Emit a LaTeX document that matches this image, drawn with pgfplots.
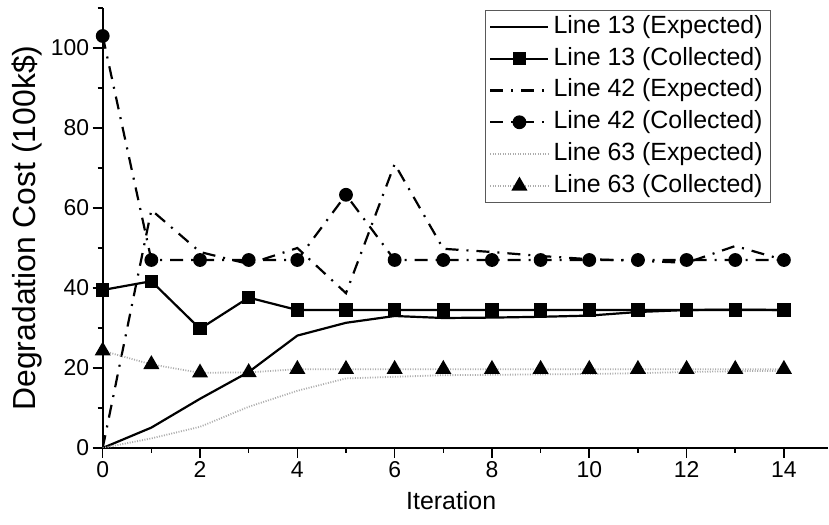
\documentclass[border=0pt]{standalone}
\usepackage{pgfplots}
\pgfplotsset{compat=1.18}
\usepackage{fontspec}
\setmainfont{Liberation Sans}
\begin{document}
\begin{tikzpicture}
\useasboundingbox (-102.7bp,-77bp) rectangle (726.3bp,448bp);
\begin{axis}[
  scale only axis,
  width=725bp, height=440bp,
  xmin=0, xmax=14.9, ymin=0, ymax=110,
  axis x line*=bottom, axis y line*=left,
  axis line style={line width=1.7bp, black},
  xtick={0,2,...,14}, minor xtick={1,3,...,13},
  ytick={0,20,...,100}, minor ytick={10,30,...,110},
  tick align=outside,
  major tick length=10bp, minor tick length=5bp,
  every tick/.style={line width=1.6bp, black},
  /pgf/number format/assume math mode=true,
  tick label style={font=\fontsize{23}{27}\selectfont},
  xlabel={Iteration}, ylabel={Degradation Cost (100k\$)},
  xlabel style={font=\fontsize{25}{29}\selectfont, yshift=-7bp, xshift=-14bp},
  ylabel style={font=\fontsize{32}{36}\selectfont, yshift=2bp},
  legend style={at={(rel axis cs:0.9218,0.9955)}, anchor=north east,
    draw=gray!70!black, line width=0.8bp,
    font=\fontsize{25}{30}\selectfont,
    inner xsep=4bp, inner ysep=1bp, row sep=0.8bp,
    nodes={text height=18bp, text depth=5bp, inner ysep=4bp, inner xsep=4bp},
    cells={anchor=west}},
  legend cell align=left,
  legend image code/.code={\draw[mark repeat=2,mark phase=2] plot coordinates {(0bp,0bp) (29bp,0bp) (58bp,0bp)};},
]
% Line 13 Expected
\addplot[black, line width=2.2bp] coordinates {(0,0)(1,5.1)(2,12.3)(3,19)(4,28.1)(5,31.3)(6,33)(7,32.5)(8,32.6)(9,32.8)(10,33.1)(11,34)(12,34.5)(13,34.6)(14,34.5)};
\addlegendentry{Line 13 (Expected)}
% Line 13 Collected
\addplot[black, line width=2.2bp, mark=square*, mark size=5.5bp, mark options={solid}] coordinates {(0,39.5)(1,41.7)(2,29.8)(3,37.6)(4,34.5)(5,34.5)(6,34.5)(7,34.5)(8,34.5)(9,34.5)(10,34.5)(11,34.5)(12,34.5)(13,34.5)(14,34.5)};
\addlegendentry{Line 13 (Collected)}
% Line 42 Expected
\addplot[black, line width=2.2bp, dash pattern=on 13bp off 8bp on 2bp off 8bp] coordinates {(0,0)(1,59.5)(2,49)(3,46)(4,50)(5,38.7)(6,71)(7,49.8)(8,49)(9,48)(10,47.2)(11,46.8)(12,46.3)(13,50.5)(14,47)};
\addlegendentry{Line 42 (Expected)}
% Line 42 Collected
\addplot[black, line width=2.2bp, dash pattern=on 13bp off 8bp on 2bp off 8bp, mark=*, mark size=5.8bp, mark options={solid}] coordinates {(0,103)(1,47)(2,47)(3,47)(4,47)(5,63.3)(6,47)(7,47)(8,47)(9,47)(10,47)(11,47)(12,47)(13,47)(14,47)};
\addlegendentry{Line 42 (Collected)}
% Line 63 Expected
\addplot[gray!65, line width=1.8bp, dash pattern=on 1bp off 1.5bp] coordinates {(0,0)(1,2.4)(2,5.3)(3,10.3)(4,14.3)(5,17.4)(6,17.8)(7,18.2)(8,18.3)(9,18.4)(10,18.5)(11,18.7)(12,19)(13,19.2)(14,19.3)};
\addlegendentry{Line 63 (Expected)}
% Line 63 Collected
\addplot[gray!65, line width=1.8bp, dash pattern=on 1bp off 1.5bp, mark=triangle*, mark size=7.5bp, mark options={solid, black, fill=black}] coordinates {(0,24.3)(1,20.9)(2,18.8)(3,18.9)(4,19.7)(5,19.7)(6,19.7)(7,19.7)(8,19.7)(9,19.7)(10,19.7)(11,19.7)(12,19.7)(13,19.7)(14,19.7)};
\addlegendentry{Line 63 (Collected)}
\end{axis}
\end{tikzpicture}
\end{document}
